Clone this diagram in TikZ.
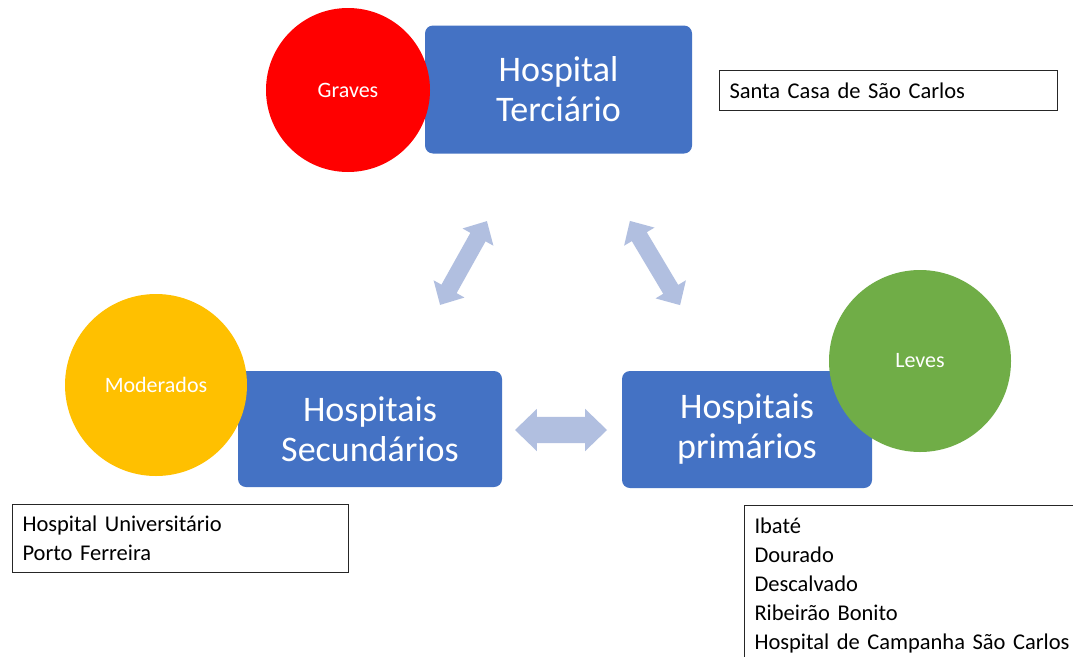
\documentclass[tikz,border=0pt]{standalone}
\usepackage{fontspec}
\setmainfont[WordSpace=0.9]{Carlito}
\usetikzlibrary{shapes.arrows}
\definecolor{boxblue}{HTML}{4472C4}
\definecolor{arrblue}{HTML}{B1BFE0}
\definecolor{gravesred}{HTML}{FF0000}
\definecolor{modyellow}{HTML}{FFC000}
\definecolor{levgreen}{HTML}{70AD47}
\begin{document}
\begin{tikzpicture}[x=1pt,y=-1pt,
  hbox/.style={rectangle, rounded corners=8pt, fill=boxblue, text=white, align=center,
    font=\fontsize{36}{40}\selectfont, inner sep=0pt},
  sev/.style={circle, inner sep=0pt, text=white, font=\fontsize{22}{26}\selectfont},
  lbox/.style={draw=black!85, line width=1pt, rectangle, align=left,
    font=\fontsize{22.5}{29}\selectfont, inner xsep=10pt, inner ysep=8pt, anchor=north west},
  dbl/.style={double arrow, fill=arrblue, draw=none, inner xsep=0pt, double arrow tip angle=88}
]
\path[use as bounding box, fill=white] (0,0) rectangle (1073,656);
\clip (0,0) rectangle (1073,656);

% main boxes
\node[hbox, minimum width=267, minimum height=128] (ter) at (558.5,89.5) {Hospital\\Terciário};
\node[hbox, minimum width=264, minimum height=116] (sec) at (370,429) {Hospitais\\Secundários};
\node[hbox, minimum width=250, minimum height=117] (pri) at (747,429.5) {Hospitais\\primários};

% severity circles
\node[sev, fill=gravesred, minimum size=164] (gra) at (348,90) {Graves};
\node[sev, fill=modyellow, minimum size=182] (mod) at (156,385) {Moderados};
\node[sev, fill=levgreen, minimum size=182] (lev) at (920,361) {Leves};

% label boxes
\node[lbox, text width=318, minimum height=40, inner ysep=0pt] (sc) at (719,70) {Santa Casa de São Carlos};
\node[lbox, text width=316, minimum height=68, inner ysep=0pt] (hu) at (12,504) {Hospital Universitário\\Porto Ferreira};
\node[lbox, text width=326, inner ysep=12pt] (pr) at (744,505) {Ibaté\\Dourado\\Descalvado\\Ribeirão Bonito\\Hospital de Campanha São Carlos};

% block arrows
\node[dbl, minimum height=96, inner ysep=8.5pt, minimum width=35, double arrow head extend=9, rotate=60.8] (a1) at (463.5,263) {};
\node[dbl, minimum height=98, inner ysep=8.5pt, minimum width=35, double arrow head extend=9, rotate=-59.2] (a2) at (655,263) {};
\node[dbl, minimum height=92, inner ysep=13pt, minimum width=42, double arrow head extend=8] (a3) at (561,430) {};
\end{tikzpicture}
\end{document}
